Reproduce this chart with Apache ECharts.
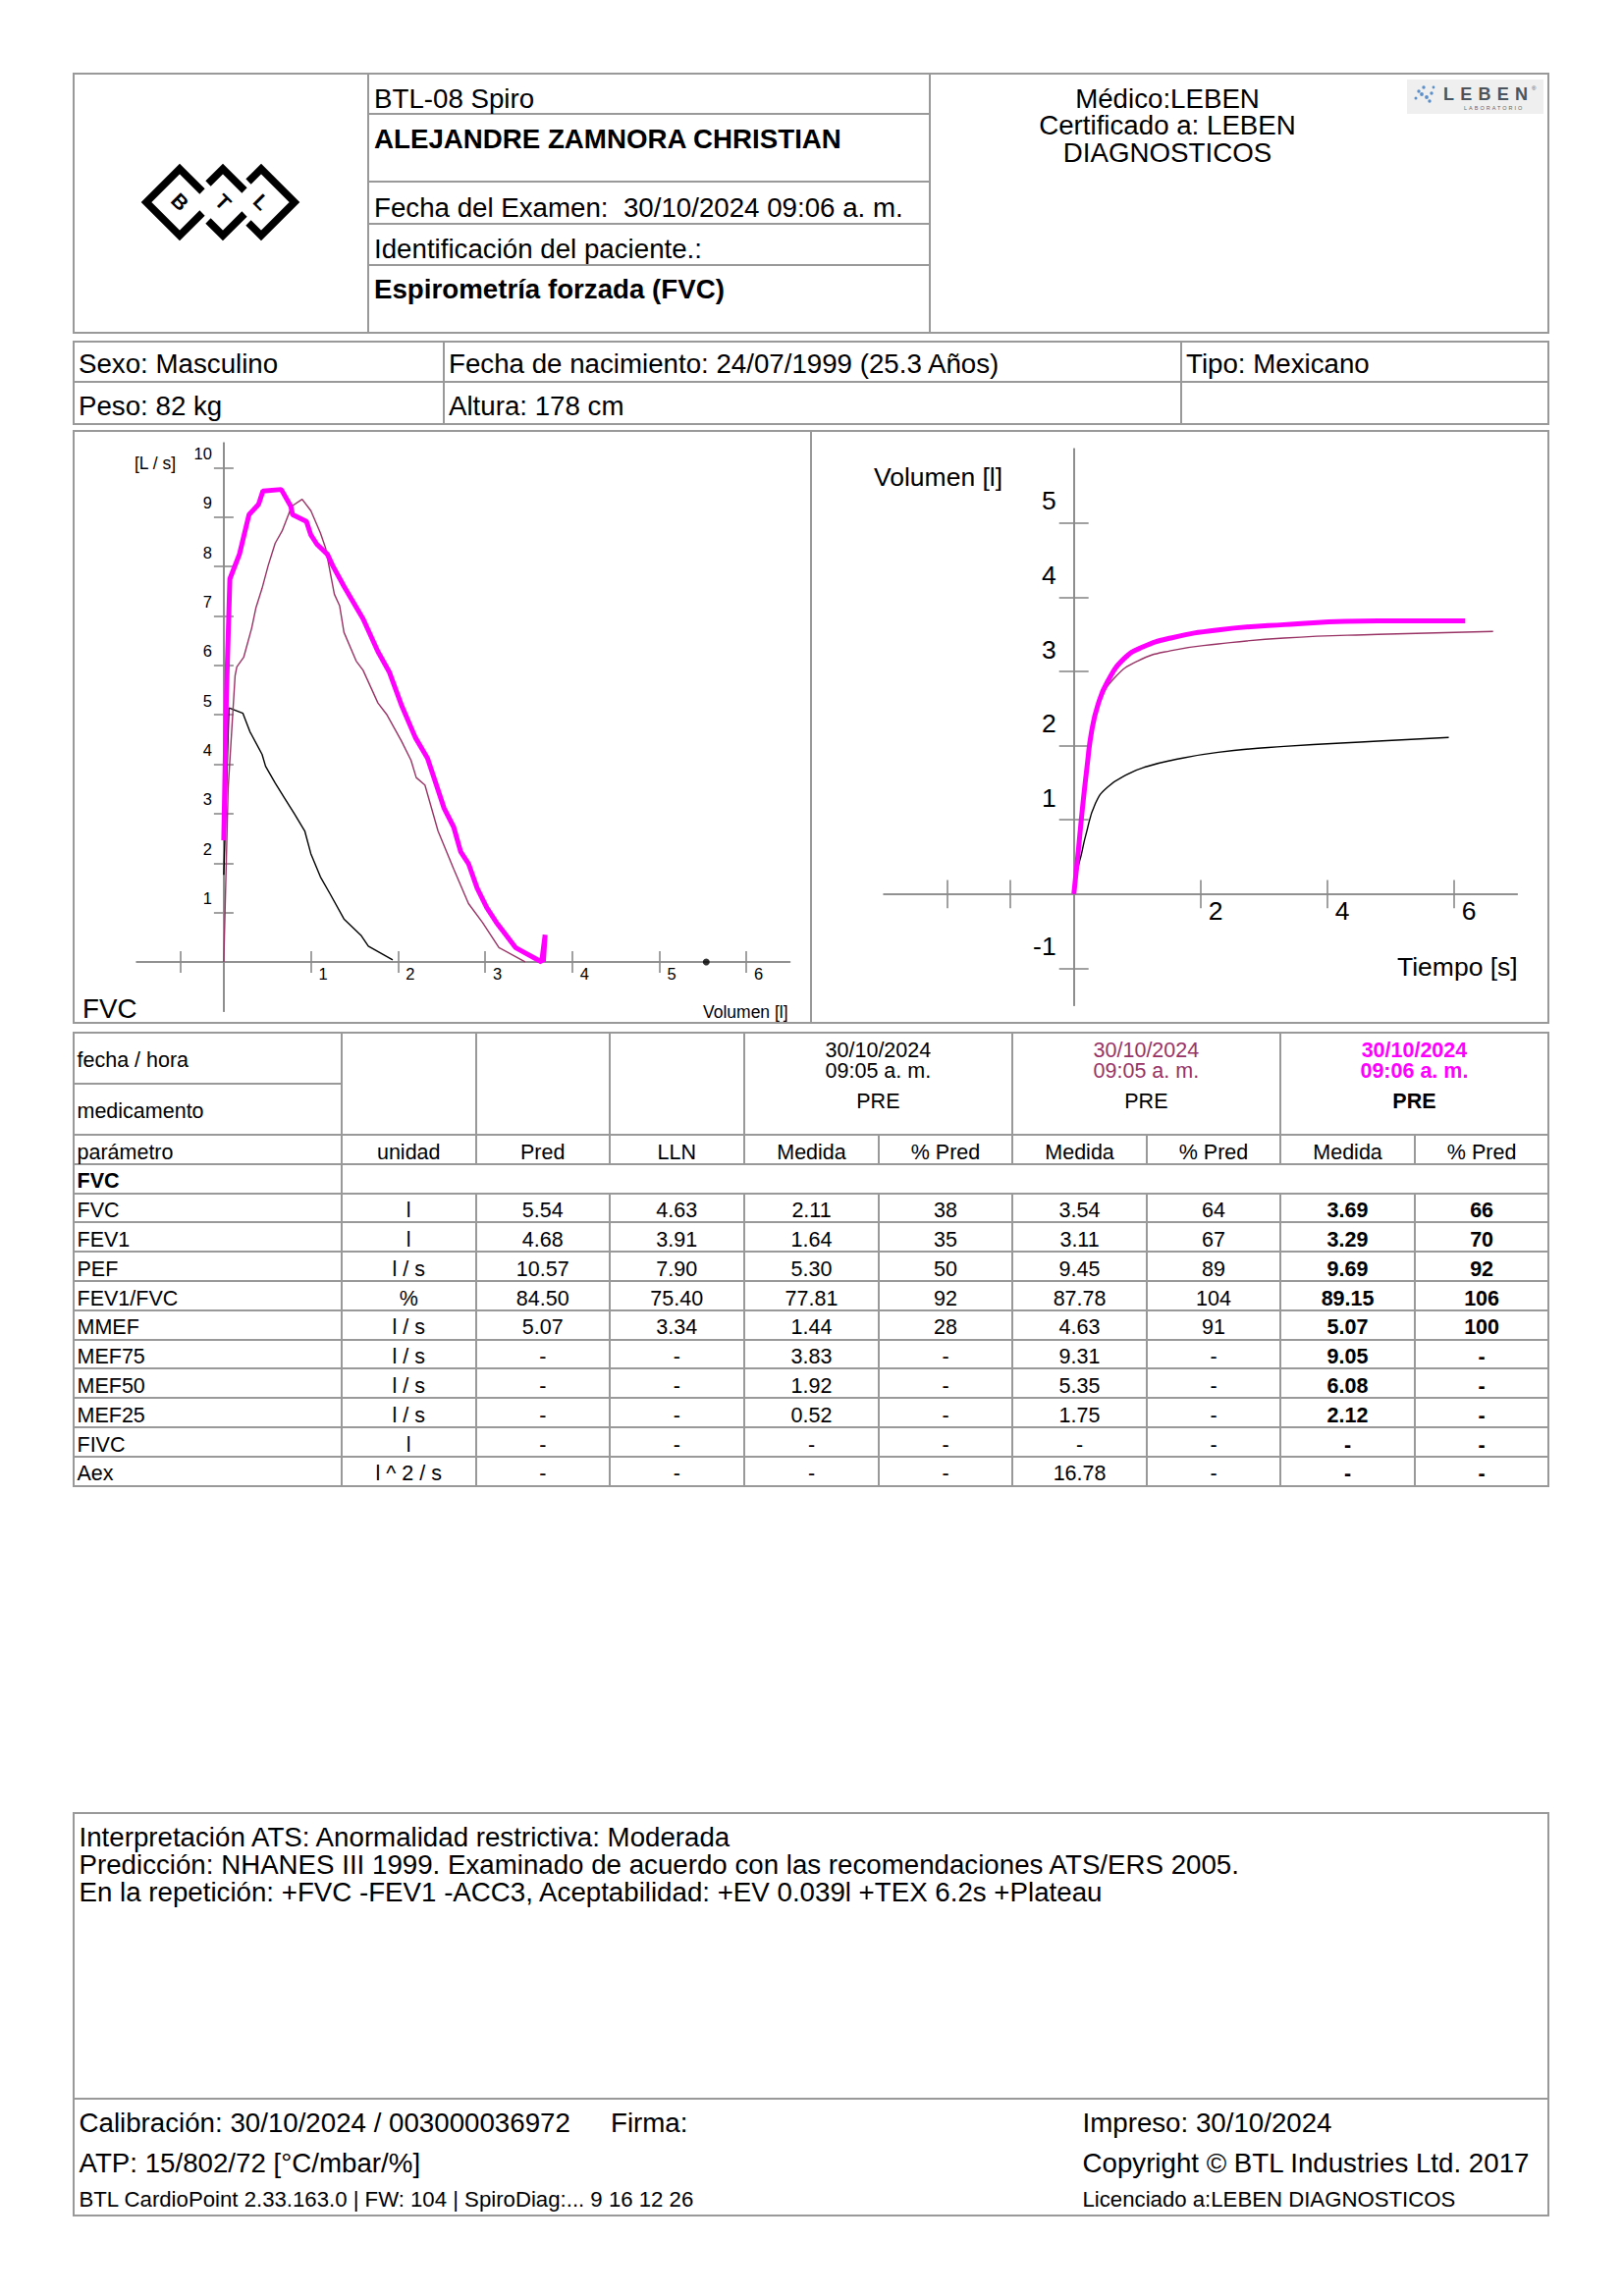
<!DOCTYPE html>
<html lang="es">
<head>
<meta charset="utf-8">
<title>Espirometría forzada (FVC)</title>
<script src="https://cdn.jsdelivr.net/npm/echarts@6.0.0/dist/echarts.min.js"></script>
<style>
html,body{margin:0;padding:0;background:#fff;}
body{position:relative;width:1653px;height:2339px;overflow:hidden;font-family:"Liberation Sans",Arial,Helvetica,sans-serif;color:#000;}
.ln{position:absolute;background:#999;z-index:5;}
.tx{position:absolute;white-space:pre;line-height:1.2;z-index:6;}
.chart{position:absolute;z-index:2;}
</style>
</head>
<body>
<div id="fv" class="chart" style="left:75px;top:439px;width:751px;height:603px;"></div>
<div id="vt" class="chart" style="left:826px;top:439px;width:751px;height:603px;"></div>

<svg style="position:absolute;left:0;top:0;z-index:6" width="330" height="260" xmlns="http://www.w3.org/2000/svg">
  <g fill="none" stroke="#000" stroke-width="7.5" stroke-linejoin="miter" stroke-linecap="butt">
    <polyline points="206,195 183,172 149,206 183,240 206,217"/>
    <polyline points="212,187 227,172 249,194"/>
    <polyline points="212,225 227,240 249,218"/>
    <polyline points="253,185 266,172 300,206 266,240 253,227"/>
  </g>
  <g font-family="Liberation Sans, Arial, sans-serif" font-weight="bold" font-size="21" text-anchor="middle" fill="#000">
    <text x="183" y="213" transform="rotate(45 183 206)">B</text>
    <text x="227" y="213" transform="rotate(45 227 206)">T</text>
    <text x="266" y="213" transform="rotate(45 266 206)">L</text>
  </g>
</svg>

<div style="position:absolute;left:1433px;top:81px;width:139px;height:35px;background:#efefef;z-index:4;"></div>
<svg style="position:absolute;left:1433px;top:81px;z-index:6" width="139" height="35" xmlns="http://www.w3.org/2000/svg">
  <g fill="#5b8fc9">
    <circle cx="12" cy="12" r="1.7"/><circle cx="17" cy="8" r="1.7"/><circle cx="15" cy="15" r="1.9"/>
    <circle cx="20" cy="18" r="1.9"/><circle cx="25" cy="14" r="1.7"/><circle cx="23" cy="22" r="1.7"/>
    <circle cx="9" cy="19" r="1.5"/><circle cx="27" cy="8" r="1.4"/>
  </g>
  <text x="37" y="21" textLength="86" lengthAdjust="spacing" font-family="Liberation Sans, Arial, sans-serif" font-size="18" font-weight="bold" fill="#4a5560">LEBEN</text>
  <text x="127" y="11" font-family="Liberation Sans, Arial, sans-serif" font-size="6" fill="#4a5560">®</text>
  <text x="58" y="31" font-family="Liberation Sans, Arial, sans-serif" font-size="5.5" letter-spacing="2" fill="#666">LABORATORIO</text>
</svg>

<script>
// ================= DATA =================
// Flow-volume loops (volume [l], flow [L/s])
const fvVol1  = [0, 0.06, 0.22, 0.30, 0.44, 0.48, 0.59, 0.70, 0.81, 0.93, 1.00, 1.11, 1.22, 1.38, 1.58, 1.66, 1.94];
const fvFlow1 = [1.76, 5.14, 5.03, 4.66, 4.20, 3.96, 3.62, 3.31, 3.00, 2.65, 2.19, 1.72, 1.38, 0.87, 0.53, 0.32, 0.04];

const fvVol2  = [0, 0.05, 0.13, 0.15, 0.23, 0.32, 0.37, 0.44, 0.51, 0.59, 0.67, 0.78, 0.90, 1.00, 1.11, 1.17, 1.27, 1.33, 1.38, 1.52, 1.60, 1.77, 1.87, 2.04, 2.15, 2.21, 2.31, 2.46, 2.64, 2.81, 2.97, 3.16, 3.46];
const fvFlow2 = [0, 3.50, 5.79, 5.97, 6.17, 6.75, 7.17, 7.56, 8.02, 8.47, 8.72, 9.22, 9.36, 9.13, 8.68, 8.37, 7.44, 7.21, 6.67, 6.09, 5.90, 5.24, 5.01, 4.47, 4.08, 3.73, 3.58, 2.65, 1.88, 1.18, 0.80, 0.29, 0.0];

const fvVol3  = [0, 0.03, 0.07, 0.18, 0.29, 0.40, 0.45, 0.66, 0.77, 0.79, 0.95, 1.00, 1.07, 1.19, 1.25, 1.38, 1.60, 1.77, 1.90, 2.04, 2.20, 2.34, 2.53, 2.64, 2.72, 2.81, 2.91, 3.02, 3.13, 3.35, 3.65, 3.69, 3.67];
const fvFlow3 = [2.46, 5.36, 7.75, 8.25, 9.05, 9.26, 9.53, 9.56, 9.22, 9.05, 8.91, 8.64, 8.45, 8.25, 8.02, 7.60, 6.94, 6.28, 5.87, 5.20, 4.54, 4.12, 3.11, 2.73, 2.23, 1.99, 1.49, 1.10, 0.80, 0.29, 0.0, 0.55, 0.0];

const predFVC = 5.54;

// Volume-time curves (time [s], volume [l])
const vtT1 = [0, 0.06, 0.12, 0.19, 0.34, 0.53, 0.86, 1.16, 1.53, 2.28, 3.32, 4.80, 5.92];
const vtV1 = [0, 0.33, 0.54, 0.80, 1.22, 1.44, 1.62, 1.72, 1.80, 1.91, 1.99, 2.06, 2.11];

const vtT2 = [0, 0.08, 0.16, 0.27, 0.42, 0.64, 1.01, 1.53, 2.28, 3.32, 4.80, 6.62];
const vtV2 = [0, 0.69, 1.36, 2.14, 2.60, 2.91, 3.14, 3.28, 3.37, 3.45, 3.50, 3.54];

const vtT3 = [0, 0.06, 0.13, 0.21, 0.28, 0.38, 0.53, 0.79, 1.09, 1.53, 2.28, 3.32, 4.80, 6.18];
const vtV3 = [0, 0.49, 1.11, 1.73, 2.19, 2.55, 2.86, 3.17, 3.33, 3.45, 3.56, 3.63, 3.68, 3.68];

// Axis ticks / labels
const fvXTicks = [-0.5, 1, 2, 3, 4, 5, 6];
const fvXLabels = [1, 2, 3, 4, 5, 6];
const fvYTicks = [1, 2, 3, 4, 5, 6, 7, 8, 9, 10];
const vtXTicks = [-2, -1, 2, 4, 6];
const vtXLabels = [2, 4, 6];
const vtYTicks = [-1, 1, 2, 3, 4, 5];

// Table
const tblParams = ['FVC', 'FEV1', 'PEF', 'FEV1/FVC', 'MMEF', 'MEF75', 'MEF50', 'MEF25', 'FIVC', 'Aex'];
const tblUnits  = ['l', 'l', 'l / s', '%', 'l / s', 'l / s', 'l / s', 'l / s', 'l', 'l ^ 2 / s'];
const tblPred   = ['5.54', '4.68', '10.57', '84.50', '5.07', '-', '-', '-', '-', '-'];
const tblLLN    = ['4.63', '3.91', '7.90', '75.40', '3.34', '-', '-', '-', '-', '-'];
const t1Med = ['2.11', '1.64', '5.30', '77.81', '1.44', '3.83', '1.92', '0.52', '-', '-'];
const t1Pct = ['38', '35', '50', '92', '28', '-', '-', '-', '-', '-'];
const t2Med = ['3.54', '3.11', '9.45', '87.78', '4.63', '9.31', '5.35', '1.75', '-', '16.78'];
const t2Pct = ['64', '67', '89', '104', '91', '-', '-', '-', '-', '-'];
const t3Med = ['3.69', '3.29', '9.69', '89.15', '5.07', '9.05', '6.08', '2.12', '-', '-'];
const t3Pct = ['66', '70', '92', '106', '100', '-', '-', '-', '-', '-'];
const trialDates = ['30/10/2024', '30/10/2024', '30/10/2024'];
const trialTimes = ['09:05 a. m.', '09:05 a. m.', '09:06 a. m.'];
const tblHeader = ['parámetro', 'unidad', 'Pred', 'LLN', 'Medida', '% Pred', 'Medida', '% Pred', 'Medida', '% Pred'];

// ================= HELPERS =================
const page = document.body;
const MAROON = '#993366', MAG = '#ff00ff';
const FONT = '"Liberation Sans", Arial, sans-serif';
const F = 27.7;

function line(x1, y1, x2, y2) {
  const d = document.createElement('div'); d.className = 'ln';
  d.style.left = (x1 - 1) + 'px'; d.style.top = (y1 - 1) + 'px';
  if (y1 === y2) { d.style.width = (x2 - x1 + 2) + 'px'; d.style.height = '2px'; }
  else { d.style.width = '2px'; d.style.height = (y2 - y1 + 2) + 'px'; }
  page.appendChild(d);
}
function rect(x1, y1, x2, y2) { line(x1, y1, x2, y1); line(x1, y2, x2, y2); line(x1, y1, x1, y2); line(x2, y1, x2, y2); }
function text(s, x, cy, o) {
  o = o || {};
  const size = o.size || F;
  const d = document.createElement('div'); d.className = 'tx';
  d.textContent = s; d.style.fontSize = size + 'px'; d.style.top = (cy - 0.6 * size) + 'px';
  if (o.bold) d.style.fontWeight = 'bold';
  if (o.color) d.style.color = o.color;
  if (o.align === 'center') { d.style.left = (x - 300) + 'px'; d.style.width = '600px'; d.style.textAlign = 'center'; }
  else d.style.left = x + 'px';
  page.appendChild(d);
}

// ================= HEADER =================
rect(75, 75, 1577, 339);
line(374.5, 75, 374.5, 339);
line(947, 75, 947, 339);
[116.4, 185, 228.3, 270].forEach(y => line(374.5, y, 947, y));
text('BTL-08 Spiro', 381, 100.5);
text('ALEJANDRE ZAMNORA CHRISTIAN', 381, 142, { bold: true });
text('Fecha del Examen:  30/10/2024 09:06 a. m.', 381, 212);
text('Identificación del paciente.:', 381, 254);
text('Espirometría forzada (FVC)', 381, 295, { bold: true });
text('Médico:LEBEN', 1189, 100.5, { align: 'center' });
text('Certificado a: LEBEN', 1189, 128, { align: 'center' });
text('DIAGNOSTICOS', 1189, 155.5, { align: 'center' });

// ================= PATIENT INFO =================
rect(75, 347.6, 1577, 432);
line(75, 389.4, 1577, 389.4);
line(452, 347.6, 452, 432);
line(1202.5, 347.6, 1202.5, 432);
text('Sexo: Masculino', 80, 371);
text('Fecha de nacimiento: 24/07/1999 (25.3 Años)', 457, 371);
text('Tipo: Mexicano', 1208, 371);
text('Peso: 82 kg', 80, 413.5);
text('Altura: 178 cm', 457, 413.5);

// ================= CHART PANELS =================
rect(75, 439, 1577, 1042);
line(826, 439, 826, 1042);
text('[L / s]', 137, 472, { size: 17.5 });
text('Volumen [l]', 716, 1031, { size: 17.5 });
text('FVC', 84, 1028, { size: 27.7 });
text('Volumen [l]', 890, 487, { size: 26.5 });
text('Tiempo [s]', 1423, 986, { size: 26.5 });

// ================= TABLE =================
const colX = [75, 347.6, 484.9, 620.6, 757.9, 895.1, 1030.9, 1168.2, 1303.9, 1441.2, 1577];
const tTop = 1051.7, tMid = 1104, tHdr = 1156, rowH = 29.8;
const nRows = tblParams.length + 2;
const tBot = tHdr + nRows * rowH;
const TS = 21.5;
line(75, tTop, 1577, tTop);
line(75, tMid, colX[1], tMid);
for (let r = 0; r <= nRows; r++) line(75, tHdr + r * rowH, 1577, tHdr + r * rowH);
line(75, tTop, 75, tBot); line(1577, tTop, 1577, tBot); line(colX[1], tTop, colX[1], tBot);
[2, 3, 4, 6, 8].forEach(i => { line(colX[i], tTop, colX[i], tHdr + rowH); line(colX[i], tHdr + 2 * rowH, colX[i], tBot); });
[5, 7, 9].forEach(i => { line(colX[i], tHdr, colX[i], tHdr + rowH); line(colX[i], tHdr + 2 * rowH, colX[i], tBot); });

text('fecha / hora', 78.5, 1081, { size: TS });
text('medicamento', 78.5, 1133, { size: TS });
const trialColor = ['#000', MAROON, MAG];
for (let k = 0; k < 3; k++) {
  const cx = (colX[4 + 2 * k] + colX[6 + 2 * k]) / 2;
  const bold = k === 2;
  text(trialDates[k], cx, 1071, { size: TS, align: 'center', color: trialColor[k], bold });
  text(trialTimes[k], cx, 1092, { size: TS, align: 'center', color: trialColor[k], bold });
  text('PRE', cx, 1122.5, { size: TS, align: 'center', bold });
}
const cyRow = r => tHdr + r * rowH + rowH / 2 + 3.5;
tblHeader.forEach((h, i) => {
  if (i === 0) text(h, 78.5, cyRow(0), { size: TS });
  else text(h, (colX[i] + colX[i + 1]) / 2, cyRow(0), { size: TS, align: 'center' });
});
text('FVC', 78.5, cyRow(1), { size: TS, bold: true });
const cols = [tblUnits, tblPred, tblLLN, t1Med, t1Pct, t2Med, t2Pct, t3Med, t3Pct];
tblParams.forEach((p, r) => {
  const cy = cyRow(r + 2);
  text(p, 78.5, cy, { size: TS });
  cols.forEach((arr, j) => {
    const i = j + 1;
    text(arr[r], (colX[i] + colX[i + 1]) / 2, cy, { size: TS, align: 'center', bold: j >= 7 });
  });
});

// ================= FOOTER =================
rect(75, 1847, 1577, 2257);
line(75, 2138, 1577, 2138);
text('Interpretación ATS: Anormalidad restrictiva: Moderada', 80.5, 1872);
text('Predicción: NHANES III 1999. Examinado de acuerdo con las recomendaciones ATS/ERS 2005.', 80.5, 1900);
text('En la repetición: +FVC -FEV1 -ACC3, Aceptabilidad: +EV 0.039l +TEX 6.2s +Plateau', 80.5, 1927.5);
text('Calibración: 30/10/2024 / 003000036972', 80.5, 2163);
text('Firma:', 622, 2163);
text('Impreso: 30/10/2024', 1102.5, 2163);
text('ATP: 15/802/72 [°C/mbar/%]', 80.5, 2204);
text('Copyright © BTL Industries Ltd. 2017', 1102.5, 2204);
text('BTL CardioPoint 2.33.163.0 | FW: 104 | SpiroDiag:... 9 16 12 26', 80.5, 2241, { size: 22.2 });
text('Licenciado a:LEBEN DIAGNOSTICOS', 1102.5, 2241, { size: 22.2 });

// ================= CHARTS =================
const GRAY = '#8a8a8a';
const pairs = (a, b) => a.map((v, i) => [v, b[i]]);
// two overlaid axes (ticks outward + ticks inward) so that ticks cross the axis line
function axisPair(dim, min, max, ticks, labels, len, offset, labelOpt) {
  const pos = dim === 'x' ? 'bottom' : 'left';
  const base = () => ({
    type: 'value', min, max, position: pos, offset, splitLine: { show: false },
    axisLine: { show: true, onZero: false, lineStyle: { color: GRAY, width: 1.6 } }
  });
  const a = base();
  a.axisTick = { show: true, inside: false, length: len, customValues: ticks, lineStyle: { color: GRAY, width: 1.6 } };
  a.axisLabel = Object.assign({ show: true, customValues: labels, color: '#000', fontFamily: FONT }, labelOpt);
  const b = base();
  b.axisTick = { show: true, inside: true, length: len, customValues: ticks, lineStyle: { color: GRAY, width: 1.6 } };
  b.axisLabel = { show: false };
  return [a, b];
}

// Flow-volume: x -1..6.5 (88.7 px/l), y -1..10.5 (50.35 px per L/s)
const fvChart = echarts.init(document.getElementById('fv'), null, { renderer: 'svg' });
fvChart.setOption({
  animation: false,
  grid: { left: 64.2, top: 12.3, width: 665.25, height: 579.0, outerBoundsMode: 'none', containLabel: false },
  xAxis: axisPair('x', -1, 6.5, fvXTicks, fvXLabels, 11, -50.35, { fontSize: 16.5, align: 'left', verticalAlign: 'top', margin: 4, padding: [0, 0, 0, 8] }),
  yAxis: axisPair('y', -1, 10.5, fvYTicks, fvYTicks, 10, -88.7, { fontSize: 16.5, align: 'right', verticalAlign: 'bottom', margin: 12, padding: [0, 0, 6, 0] }),
  series: [
    { type: 'line', data: pairs(fvVol1, fvFlow1), symbol: 'none', lineStyle: { color: '#000', width: 1.4 }, z: 2 },
    { type: 'line', data: pairs(fvVol2, fvFlow2), symbol: 'none', lineStyle: { color: MAROON, width: 1.4 }, z: 3 },
    { type: 'line', data: pairs(fvVol3, fvFlow3), symbol: 'none', lineStyle: { color: MAG, width: 5 }, z: 4 },
    { type: 'scatter', data: [[predFVC, 0]], symbol: 'circle', symbolSize: 7, itemStyle: { color: '#000' }, z: 5 }
  ]
});

// Volume-time: x -3..7 (64.5 px/s), y -1.5..6 (75.6 px/l)
const vtChart = echarts.init(document.getElementById('vt'), null, { renderer: 'svg' });
vtChart.setOption({
  animation: false,
  grid: { left: 74.2, top: 18.2, width: 645, height: 567, outerBoundsMode: 'none', containLabel: false },
  xAxis: axisPair('x', -3, 7, vtXTicks, vtXLabels, 14.4, -113.4, { fontSize: 26.5, align: 'left', verticalAlign: 'top', margin: 4, padding: [0, 0, 0, 8] }),
  yAxis: axisPair('y', -1.5, 6, vtYTicks, vtYTicks, 15, -193.5, { fontSize: 26.5, align: 'right', verticalAlign: 'bottom', margin: 18, padding: [0, 0, 9, 0] }),
  series: [
    { type: 'line', data: pairs(vtT1, vtV1), symbol: 'none', smooth: 0.5, lineStyle: { color: '#000', width: 1.4 }, z: 2 },
    { type: 'line', data: pairs(vtT2, vtV2), symbol: 'none', smooth: 0.5, lineStyle: { color: MAROON, width: 1.4 }, z: 3 },
    { type: 'line', data: pairs(vtT3, vtV3), symbol: 'none', smooth: 0.5, lineStyle: { color: MAG, width: 5 }, z: 4 }
  ]
});
</script>
</body>
</html>
